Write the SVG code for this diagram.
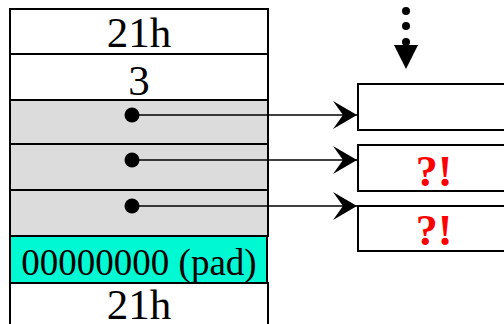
<svg xmlns="http://www.w3.org/2000/svg" width="504" height="324" viewBox="0 0 504 324">
<style>
.cell{stroke:#000;stroke-width:2}
.w{fill:#fff}
.g{fill:#dcdcdc}
.c{fill:#00f8d2}
.t{font-family:"Liberation Serif","Times New Roman",serif;font-size:43px;fill:#000;text-anchor:middle}
.p{font-family:"Liberation Serif","Times New Roman",serif;font-size:37px;fill:#000;text-anchor:middle}
.q{font-family:"Liberation Serif","Times New Roman",serif;font-size:44px;font-weight:bold;fill:#f00;text-anchor:middle}
.ln{stroke:#000;stroke-width:1.6;fill:none}
</style>
<defs>
<marker id="ah" markerUnits="userSpaceOnUse" markerWidth="26" markerHeight="28" refX="25" refY="14" orient="auto">
<path d="M25,14 L1,0 L11,14 L1,28 Z" fill="#000"/>
</marker>
</defs>
<rect width="504" height="324" fill="#fff"/>
<g id="stack">
<g id="cell-21h-top"><rect class="cell w" x="10" y="9" width="258" height="45"/><text class="t" x="139" y="47">21h</text></g>
<g id="cell-3"><rect class="cell w" x="10" y="54" width="258" height="46"/><text class="t" x="139" y="95">3</text></g>
<g id="cell-p1"><rect class="cell g" x="10" y="100" width="258" height="44"/><circle cx="132" cy="115" r="7.5"/></g>
<g id="cell-p2"><rect class="cell g" x="10" y="144" width="258" height="46"/><circle cx="132" cy="160" r="7.5"/></g>
<g id="cell-p3"><rect class="cell g" x="10" y="190" width="258" height="46"/><circle cx="132" cy="206" r="7.5"/></g>
<g id="cell-pad"><rect class="cell c" x="10" y="236" width="257" height="47"/><text class="p" x="139" y="275">00000000 (pad)</text></g>
<g id="cell-21h-bot"><rect class="cell w" x="10" y="283" width="258" height="50"/><text class="t" x="139" y="319">21h</text></g>
</g>
<g id="box1"><rect class="cell w" x="358" y="84" width="160" height="46"/></g>
<g id="box2"><rect class="cell w" x="358" y="145" width="160" height="46"/><text class="q" x="434" y="186">?!</text></g>
<g id="box3"><rect class="cell w" x="358" y="206" width="160" height="45"/><text class="q" x="434" y="245">?!</text></g>
<g id="connectors">
<line class="ln" x1="132" y1="115" x2="357" y2="115" marker-end="url(#ah)"/>
<line class="ln" x1="132" y1="160" x2="357" y2="160" marker-end="url(#ah)"/>
<line class="ln" x1="132" y1="206" x2="357" y2="206" marker-end="url(#ah)"/>
<circle cx="406" cy="11" r="4"/>
<circle cx="406" cy="26" r="4"/>
<circle cx="406" cy="42" r="4"/>
<path d="M394,45 L418,45 L406,69 Z" fill="#000"/>
</g>
</svg>
